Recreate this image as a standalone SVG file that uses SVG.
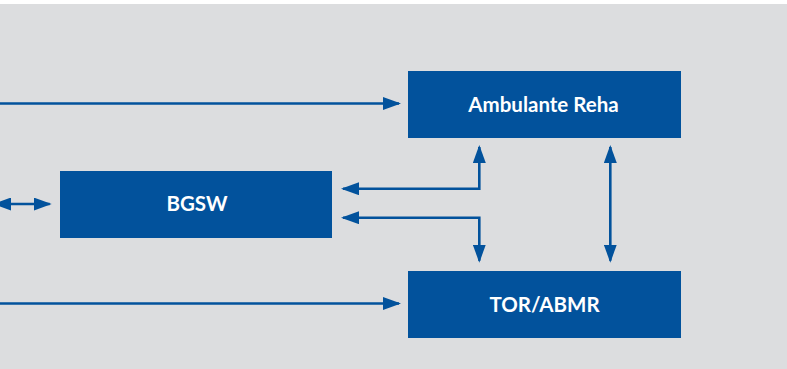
<svg xmlns="http://www.w3.org/2000/svg" width="787" height="369" viewBox="0 0 787 369">
<style>
.box{fill:#02529c}
.lbl{fill:#ffffff;font-family:Lato,"Open Sans","Liberation Sans",sans-serif;font-weight:bold;font-size:20.5px;text-anchor:middle}
.con{fill:none;stroke:#02529c;stroke-width:2.6;marker-start:url(#ah);marker-end:url(#ah)}
.one{marker-start:none}
</style>
<defs>
<marker id="ah" markerUnits="userSpaceOnUse" markerWidth="18" markerHeight="13" refX="16" refY="6.5" orient="auto-start-reverse" viewBox="0 0 18 13">
<path d="M0,0 L18,6.5 L0,13 z" fill="#02529c"/>
</marker>
</defs>
<rect x="0" y="4" width="787" height="365" fill="#dcdddf"/>
<g id="connectors">
<path class="con one" d="M-5,103.5 H399"/>
<path class="con one" d="M-5,303.5 H399"/>
<path class="con" d="M-5,204 H49.7"/>
<path class="con" d="M343,188.7 H479.3 V147"/>
<path class="con" d="M343,217.7 H479.3 V260.7"/>
<path class="con" d="M610.3,147 V260.7"/>
</g>
<g id="ambulante-reha">
<rect class="box" x="408" y="71" width="273" height="67"/>
<text class="lbl" x="543.5" y="111.8">Ambulante Reha</text>
</g>
<g id="bgsw">
<rect class="box" x="60" y="171" width="272" height="67"/>
<text class="lbl" x="197" y="211.3">BGSW</text>
</g>
<g id="tor-abmr">
<rect class="box" x="408" y="271" width="273" height="67"/>
<text class="lbl" x="544.5" y="311.8">TOR/ABMR</text>
</g>
</svg>
